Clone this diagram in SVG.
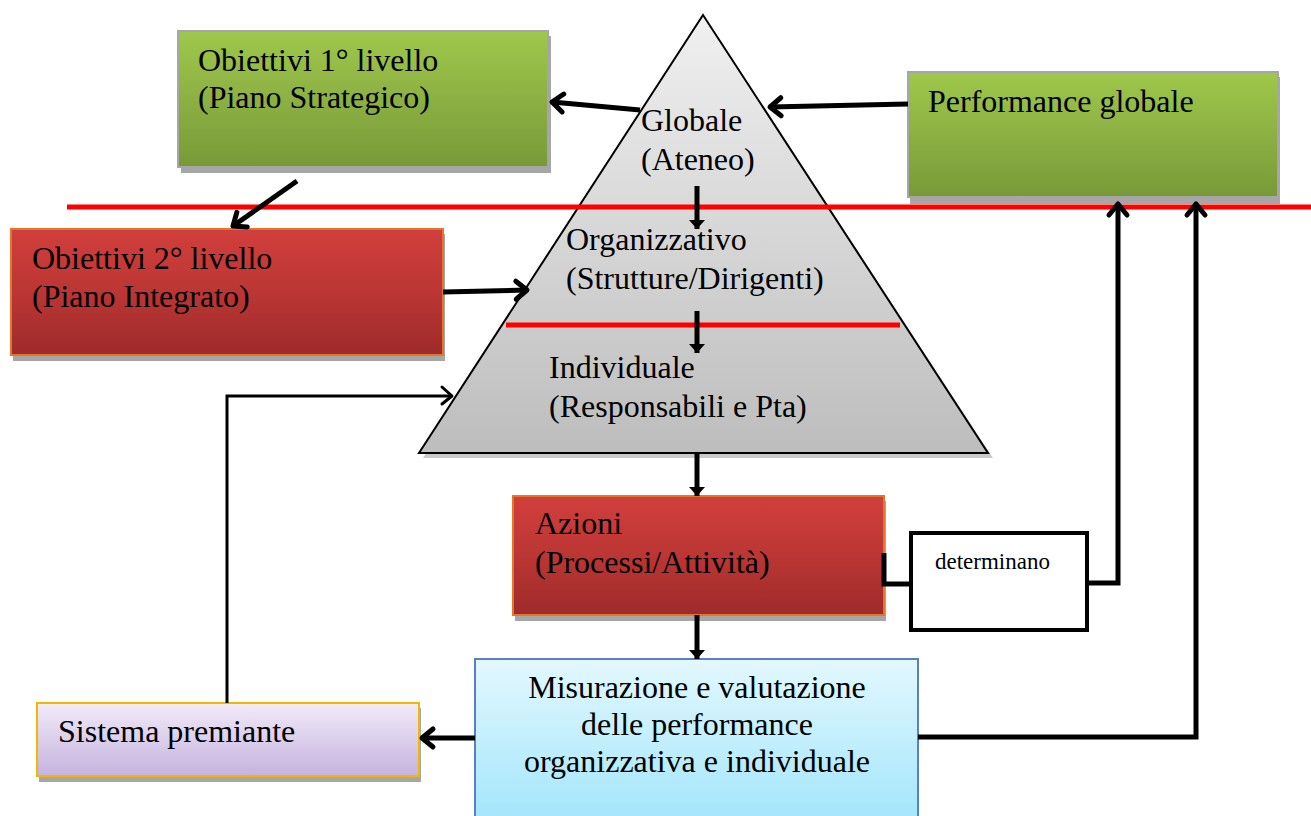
<svg xmlns="http://www.w3.org/2000/svg" width="1311" height="816" viewBox="0 0 1311 816">
<defs>
<linearGradient id="gGreen" x1="0" y1="0" x2="0" y2="1"><stop offset="0" stop-color="#9ec84b"/><stop offset="0.5" stop-color="#8db043"/><stop offset="1" stop-color="#779a38"/></linearGradient>
<linearGradient id="gRed" x1="0" y1="0" x2="0" y2="1"><stop offset="0" stop-color="#d13f3c"/><stop offset="0.5" stop-color="#bb3634"/><stop offset="1" stop-color="#9d2b2a"/></linearGradient>
<linearGradient id="gTri" x1="0" y1="0" x2="0" y2="1"><stop offset="0" stop-color="#f0f0f0"/><stop offset="1" stop-color="#bdbdbd"/></linearGradient>
<linearGradient id="gPurple" x1="0" y1="0" x2="0" y2="1"><stop offset="0" stop-color="#f1ebf8"/><stop offset="1" stop-color="#c6b2df"/></linearGradient>
<linearGradient id="gBlue" x1="0" y1="0" x2="0" y2="1"><stop offset="0" stop-color="#e3f8fe"/><stop offset="1" stop-color="#9fe5fb"/></linearGradient>
<marker id="open" markerWidth="1" markerHeight="1" refX="0" refY="0" orient="auto" markerUnits="userSpaceOnUse" overflow="visible">
<path d="M-11,-9 L0,0 L-11,9" fill="none" stroke="#000" stroke-width="5" stroke-linecap="round" stroke-linejoin="round"/>
</marker>
<marker id="openThin" markerWidth="1" markerHeight="1" refX="0" refY="0" orient="auto" markerUnits="userSpaceOnUse" overflow="visible">
<path d="M-10,-9 L0,0 L-10,8" fill="none" stroke="#000" stroke-width="3" stroke-linecap="round" stroke-linejoin="round"/>
</marker>
<marker id="fill" markerWidth="1" markerHeight="1" refX="0" refY="0" orient="auto" markerUnits="userSpaceOnUse" overflow="visible">
<path d="M-9,-8 L0,0 L-9,8 Z" fill="#000"/>
</marker>
</defs>
<style>
text{font-family:"Liberation Serif","Times New Roman",serif;font-size:32px;fill:#000}
.small{font-size:23px}
.shadow{fill:#a6a6a6}
.conn{fill:none;stroke:#000;stroke-width:5}
.thin{fill:none;stroke:#000;stroke-width:3}
.red{stroke:#ff0000;stroke-width:5;fill:none}
</style>
<rect width="1311" height="816" fill="#fff"/>

<g id="piramide">
<polygon points="706,19 423,458 993,458" class="shadow" opacity="0.6"/>
<polygon points="703,15 419,453 988,453" fill="url(#gTri)" stroke="#000" stroke-width="2"/>
<text x="641" y="131">Globale</text>
<text x="641" y="170">(Ateneo)</text>
<text x="566" y="250">Organizzativo</text>
<text x="566" y="289">(Strutture/Dirigenti)</text>
<text x="549" y="378">Individuale</text>
<text x="549" y="417">(Responsabili e Pta)</text>
</g>

<g id="linee-rosse">
<line x1="67" y1="207" x2="1311" y2="207" class="red"/>
<line x1="506" y1="325" x2="900" y2="325" class="red"/>
</g>

<g id="obiettivi1">
<rect x="181" y="36" width="370" height="137" class="shadow"/>
<rect x="178" y="31" width="370" height="136" fill="url(#gGreen)" stroke="#a6a6a6" stroke-width="2"/>
<text x="198" y="71">Obiettivi 1° livello</text>
<text x="198" y="108">(Piano Strategico)</text>
</g>

<g id="performance-globale">
<rect x="910" y="77" width="370" height="127" class="shadow"/>
<rect x="908" y="72" width="370" height="125" fill="url(#gGreen)" stroke="#a6a6a6" stroke-width="2"/>
<text x="928" y="112">Performance globale</text>
</g>

<g id="obiettivi2">
<rect x="13" y="234" width="432" height="127" class="shadow"/>
<rect x="11" y="229" width="432" height="126" fill="url(#gRed)" stroke="#e8742a" stroke-width="2"/>
<text x="32" y="269">Obiettivi 2° livello</text>
<text x="32" y="307">(Piano Integrato)</text>
</g>

<g id="azioni">
<rect x="515" y="501" width="371" height="120" class="shadow"/>
<rect x="513" y="496" width="371" height="119" fill="url(#gRed)" stroke="#e8742a" stroke-width="2"/>
<text x="535" y="534">Azioni</text>
<text x="535" y="573">(Processi/Attività)</text>
</g>

<g id="determinano">
<rect x="911" y="533" width="176" height="97" fill="#fff" stroke="#000" stroke-width="4"/>
<text x="935" y="569" class="small">determinano</text>
</g>

<g id="sistema-premiante">
<rect x="39" y="708" width="382" height="74" class="shadow"/>
<rect x="37" y="703" width="382" height="73" fill="url(#gPurple)" stroke="#f2b800" stroke-width="2"/>
<text x="58" y="742">Sistema premiante</text>
</g>

<g id="misurazione">
<rect x="475" y="659" width="443" height="170" fill="url(#gBlue)" stroke="#5b7fc7" stroke-width="2"/>
<text x="697" y="698" text-anchor="middle">Misurazione e valutazione</text>
<text x="697" y="735" text-anchor="middle">delle performance</text>
<text x="697" y="772" text-anchor="middle">organizzativa e individuale</text>
</g>

<g id="connettori">
<line x1="640" y1="110" x2="552" y2="102" class="conn" marker-end="url(#open)"/>
<line x1="908" y1="104" x2="770" y2="107" class="conn" marker-end="url(#open)"/>
<line x1="297" y1="181" x2="233" y2="226" class="conn" marker-end="url(#open)"/>
<line x1="443" y1="292" x2="527" y2="290" class="conn" marker-end="url(#open)"/>
<line x1="697" y1="186" x2="697" y2="229" class="conn" marker-end="url(#fill)"/>
<line x1="697" y1="311" x2="697" y2="353" class="conn" marker-end="url(#fill)"/>
<line x1="697" y1="453" x2="697" y2="496" class="conn" marker-end="url(#fill)"/>
<line x1="697" y1="615" x2="697" y2="659" class="conn" marker-end="url(#fill)"/>
<line x1="475" y1="738" x2="422" y2="738" class="conn" marker-end="url(#open)"/>
<polyline points="227,703 227,396 452,396" class="thin" marker-end="url(#openThin)"/>
<polyline points="884,553 884,584 911,584" class="conn"/>
<polyline points="1087,583 1118,583 1118,204" class="conn" marker-end="url(#open)"/>
<polyline points="918,737 1196,737 1196,204" class="conn" marker-end="url(#open)"/>
</g>
</svg>
